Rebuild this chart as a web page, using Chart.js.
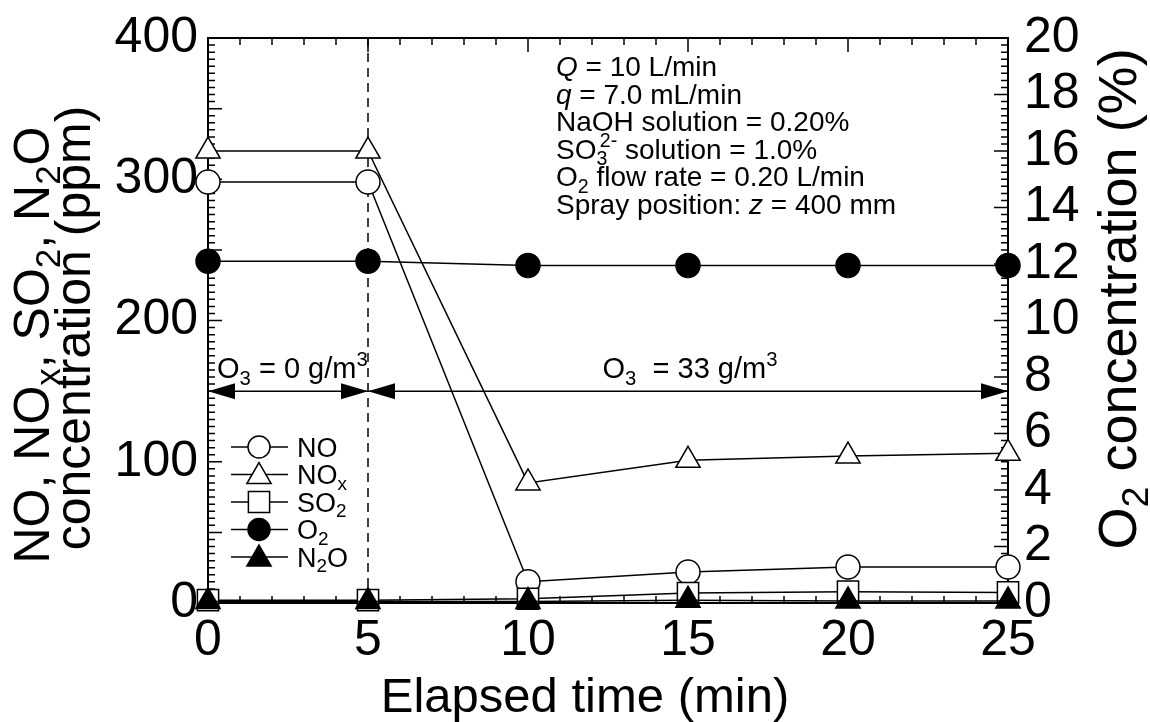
<!DOCTYPE html>
<html>
<head>
<meta charset="utf-8">
<script src="https://cdn.jsdelivr.net/npm/chart.js@4/dist/chart.umd.min.js"></script>
<style>
  html, body { margin: 0; padding: 0; background: #fff; }
  #wrap { width: 1150px; height: 722px; position: relative; }
</style>
</head>
<body>
<div id="wrap"><canvas id="c" width="1150" height="722"></canvas></div>
<script>
// ---- data ----
const timeMin = [0, 5, 10, 15, 20, 25];
const noPpm   = [298, 298, 15, 22, 25.5, 25.5];
const noxPpm  = [320, 320, 85, 101, 104, 106];
const so2Ppm  = [2, 2, 3, 7, 8, 7.5];
const n2oPpm  = [1, 1, 1, 2, 1.5, 1.5];
const o2Pct   = [12.1, 12.1, 11.95, 11.95, 11.95, 11.95];

const xTickStep = 5;
const yTickStep = 100;
const y2TickStep = 2;
const ozoneSplitMin = 5;
const arrowLevelPpm = 150;

const FONT = "'Liberation Sans', Arial, sans-serif";

function pts(ys) { return timeMin.map((t, i) => ({ x: t, y: ys[i] })); }

function richWidth(ctx, segs, size) {
  let w = 0;
  for (const s of segs) {
    const kind = s[1];
    if (kind === 'sub' || kind === 'sup') { ctx.font = `${size * 0.7}px ${FONT}`; w += ctx.measureText(s[0]).width; }
    else if (kind === 'subsup') { ctx.font = `${size * 0.7}px ${FONT}`; w += Math.max(ctx.measureText(s[0]).width, ctx.measureText(s[2]).width + size * 0.12); }
    else if (kind === 'i') { ctx.font = `italic ${size}px ${FONT}`; w += ctx.measureText(s[0]).width; }
    else { ctx.font = `${size}px ${FONT}`; w += ctx.measureText(s[0]).width; }
  }
  return w;
}
function drawRich(ctx, segs, x, y, size, align) {
  ctx.save();
  ctx.textBaseline = 'alphabetic';
  ctx.textAlign = 'left';
  ctx.fillStyle = '#000';
  const w = richWidth(ctx, segs, size);
  let cx = align === 'center' ? x - w / 2 : (align === 'right' ? x - w : x);
  for (const s of segs) {
    const kind = s[1];
    if (kind === 'sub') {
      ctx.font = `${size * 0.7}px ${FONT}`; ctx.fillText(s[0], cx, y + size * 0.22); cx += ctx.measureText(s[0]).width;
    } else if (kind === 'sup') {
      ctx.font = `${size * 0.7}px ${FONT}`; ctx.fillText(s[0], cx, y - size * 0.42); cx += ctx.measureText(s[0]).width;
    } else if (kind === 'subsup') {
      ctx.font = `${size * 0.7}px ${FONT}`;
      ctx.fillText(s[0], cx, y + size * 0.22);
      ctx.fillText(s[2], cx + size * 0.12, y - size * 0.42);
      cx += Math.max(ctx.measureText(s[0]).width, ctx.measureText(s[2]).width + size * 0.12);
    } else if (kind === 'i') {
      ctx.font = `italic ${size}px ${FONT}`; ctx.fillText(s[0], cx, y); cx += ctx.measureText(s[0]).width;
    } else {
      ctx.font = `${size}px ${FONT}`; ctx.fillText(s[0], cx, y); cx += ctx.measureText(s[0]).width;
    }
  }
  ctx.restore();
}
function drawRichRot(ctx, segs, x, y, size) {
  ctx.save();
  ctx.translate(x, y);
  ctx.rotate(-Math.PI / 2);
  drawRich(ctx, segs, 0, 0, size, 'center');
  ctx.restore();
}

function arrowHead(ctx, xTip, y, dir) {
  const L = 27, H = 8;
  ctx.beginPath();
  ctx.moveTo(xTip, y);
  ctx.lineTo(xTip - dir * L, y - H);
  ctx.lineTo(xTip - dir * L, y + H);
  ctx.closePath();
  ctx.fill();
}

const series = [
  { label: [['NO', 'n']], data: noPpm, axis: 'y', style: 'circle', fill: '#fff', r: 12, order: 4 },
  { label: [['NO', 'n'], ['x', 'sub']], data: noxPpm, axis: 'y', style: 'triangle', fill: '#fff', r: 14, order: 3 },
  { label: [['SO', 'n'], ['2', 'sub']], data: so2Ppm, axis: 'y', style: 'rect', fill: '#fff', r: 15, order: 2 },
  { label: [['O', 'n'], ['2', 'sub']], data: o2Pct, axis: 'y2', style: 'circle', fill: '#000', r: 12, order: 5 },
  { label: [['N', 'n'], ['2', 'sub'], ['O', 'n']], data: n2oPpm, axis: 'y', style: 'triangle', fill: '#000', r: 14, order: 1 },
];

const framePlugin = {
  id: 'framePlugin',
  beforeDatasetsDraw(chart) {
    const { ctx, chartArea: a, scales } = chart;
    const xs = scales.x, ys = scales.y, y2 = scales.y2;
    ctx.save();
    ctx.strokeStyle = '#000';
    ctx.lineWidth = 2;
    ctx.strokeRect(a.left, a.top, a.right - a.left, a.bottom - a.top);
    ctx.lineWidth = 1.5;
    ctx.beginPath();
    for (let v = 0; v <= ys.max + 1e-9; v += 5) {
      const p = ys.getPixelForValue(v);
      const len = (Math.round(v) % 50 === 0) ? 14 : 7;
      ctx.moveTo(a.left, p); ctx.lineTo(a.left + len, p);
    }
    for (let v = 0; v <= y2.max + 1e-9; v += 0.25) {
      const p = y2.getPixelForValue(v);
      const len = (Math.abs(v / 2 - Math.round(v / 2)) < 1e-6) ? 14 : 7;
      ctx.moveTo(a.right, p); ctx.lineTo(a.right - len, p);
    }
    for (let v = 0; v <= xs.max + 1e-9; v += 1) {
      const p = xs.getPixelForValue(v);
      const len = (v % 5 === 0) ? 14 : 7;
      ctx.moveTo(p, a.bottom); ctx.lineTo(p, a.bottom - len);
      ctx.moveTo(p, a.top); ctx.lineTo(p, a.top + len);
    }
    ctx.stroke();
    const xs5 = xs.getPixelForValue(ozoneSplitMin);
    ctx.setLineDash([9, 6]);
    ctx.lineWidth = 1.5;
    ctx.beginPath();
    ctx.moveTo(xs5, a.top); ctx.lineTo(xs5, a.bottom);
    ctx.stroke();
    ctx.setLineDash([]);
    const ya = ys.getPixelForValue(arrowLevelPpm);
    const x0 = xs.getPixelForValue(0), x25 = xs.getPixelForValue(25);
    ctx.lineWidth = 1.5;
    ctx.beginPath();
    ctx.moveTo(x0, ya); ctx.lineTo(x25, ya);
    ctx.stroke();
    ctx.fillStyle = '#000';
    arrowHead(ctx, x0, ya, -1);
    arrowHead(ctx, xs5, ya, 1);
    arrowHead(ctx, xs5, ya, -1);
    arrowHead(ctx, x25, ya, 1);
    ctx.restore();
  },
  afterDraw(chart) {
    const { ctx, scales } = chart;
    const xs = scales.x, ys = scales.y;
    const yText = ys.getPixelForValue(arrowLevelPpm) - 13;
    drawRich(ctx, [['O', 'n'], ['3', 'sub'], [' = 0 g/m', 'n'], ['3', 'sup']], xs.getPixelForValue(0) + 9, yText, 29, 'left');
    drawRich(ctx, [['O', 'n'], ['3', 'sub'], ['  = 33 g/m', 'n'], ['3', 'sup']], xs.getPixelForValue(15) + 2, yText, 29, 'center');
    const tx = 556, ty0 = 76, dy = 27.6, ts = 28;
    const lines = [
      [['Q', 'i'], [' = 10 L/min', 'n']],
      [['q', 'i'], [' = 7.0 mL/min', 'n']],
      [['NaOH solution = 0.20%', 'n']],
      [['SO', 'n'], ['3', 'subsup', '2-'], [' solution = 1.0%', 'n']],
      [['O', 'n'], ['2', 'sub'], [' flow rate = 0.20 L/min', 'n']],
      [['Spray position: ', 'n'], ['z', 'i'], [' = 400 mm', 'n']],
    ];
    lines.forEach((l, i) => drawRich(ctx, l, tx, ty0 + i * dy, ts, 'left'));
    const lgX = 259, lgY0 = 447, lgDy = 27.5;
    series.forEach((s, i) => {
      const y = lgY0 + i * lgDy;
      ctx.save();
      ctx.strokeStyle = '#000'; ctx.lineWidth = 1.5;
      ctx.beginPath(); ctx.moveTo(231, y); ctx.lineTo(288, y); ctx.stroke();
      ctx.fillStyle = s.fill; ctx.strokeStyle = '#000'; ctx.lineWidth = 1.5;
      Chart.helpers.drawPoint(ctx, { pointStyle: s.style, radius: s.style === 'circle' ? 11 : s.r, rotation: 0, borderWidth: 1.5 }, lgX, y + (s.style === 'triangle' ? 2 : 0));
      ctx.restore();
      drawRich(ctx, s.label, 297, y + 9.5, 27, 'left');
    });
    drawRich(ctx, [['Elapsed time (min)', 'n']], 585, 712, 49, 'center');
    drawRichRot(ctx, [['NO, NO', 'n'], ['x', 'sub'], [', SO', 'n'], ['2', 'sub'], [', N', 'n'], ['2', 'sub'], ['O', 'n']], 49, 345, 50);
    drawRichRot(ctx, [['concentration (ppm)', 'n']], 90, 328, 50);
    drawRichRot(ctx, [['O', 'n'], ['2', 'sub'], [' concentration (%)', 'n']], 1136, 299, 54);
  }
};

const tickFont = { family: FONT, size: 50 };
function noPad(s) { s.paddingTop = 0; s.paddingBottom = 0; s.paddingLeft = 0; s.paddingRight = 0; }

new Chart(document.getElementById('c'), {
  type: 'line',
  data: {
    datasets: series.map(s => ({
      data: pts(s.data),
      yAxisID: s.axis,
      borderColor: '#000',
      borderWidth: 1.5,
      pointStyle: s.style,
      pointRadius: s.r,
      pointHoverRadius: s.r,
      pointBackgroundColor: s.fill,
      pointBorderColor: '#000',
      pointBorderWidth: 1.5,
      fill: false,
      tension: 0,
      clip: false,
      order: s.order,
    }))
  },
  options: {
    responsive: false,
    animation: false,
    events: [],
    layout: { padding: { top: 38, left: 0, right: 0, bottom: 0 } },
    plugins: { legend: { display: false }, tooltip: { enabled: false }, title: { display: false } },
    scales: {
      x: {
        type: 'linear', min: 0, max: 25,
        ticks: { stepSize: xTickStep, font: tickFont, color: '#000', padding: 8, maxRotation: 0, autoSkip: false },
        grid: { display: false, drawTicks: false },
        border: { display: false },
        afterFit(s) { s.height = 119; noPad(s); }
      },
      y: {
        type: 'linear', position: 'left', min: 0, max: 400,
        ticks: { stepSize: yTickStep, font: tickFont, color: '#000', padding: 10, autoSkip: false },
        grid: { display: false, drawTicks: false },
        border: { display: false },
        afterFit(s) { s.width = 208; noPad(s); }
      },
      y2: {
        type: 'linear', position: 'right', min: 0, max: 20,
        ticks: { stepSize: y2TickStep, font: tickFont, color: '#000', padding: 16, autoSkip: false },
        grid: { display: false, drawTicks: false },
        border: { display: false },
        afterFit(s) { s.width = 142; noPad(s); }
      }
    }
  },
  plugins: [framePlugin]
});
</script>
</body>
</html>
